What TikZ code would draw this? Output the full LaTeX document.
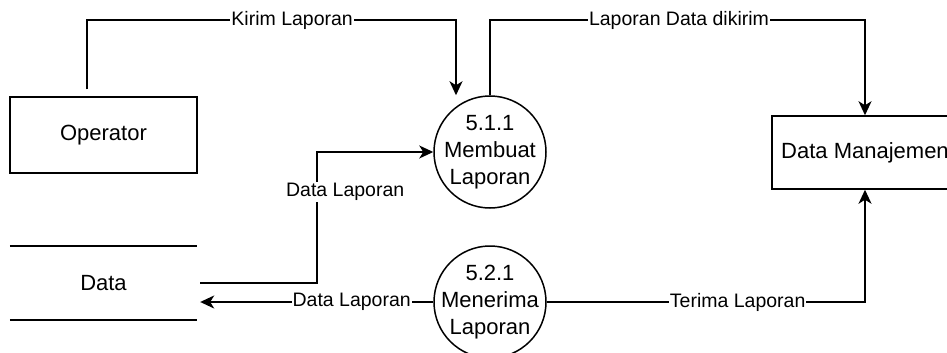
\documentclass[tikz,border=0pt]{standalone}
\usepackage{fontspec}
\setmainfont{Liberation Sans}
\usetikzlibrary{arrows.meta}

\tikzset{
  entity/.style={draw, line width=1.5pt, minimum width=187pt, minimum height=76pt,
    inner sep=0pt, font=\fontsize{22}{27}\selectfont},
  store/.style={minimum width=187pt, minimum height=74pt, inner sep=0pt,
    font=\fontsize{22}{27}\selectfont},
  process/.style={draw, circle, line width=1.5pt, minimum size=112pt, inner sep=0pt},
  proctext/.style={align=center, inner sep=0pt, font=\fontsize{22}{27}\selectfont},
  flow/.style={line width=1.6pt, -{Stealth[length=14pt,width=13pt,inset=4pt]}},
  flowlabel/.style={fill=white, inner sep=1pt, font=\fontsize{19.5}{22}\selectfont}
}

\begin{document}
\begin{tikzpicture}[x=1pt,y=-1pt]
  \useasboundingbox (0,0) rectangle (947,353);
  \clip (0,0) rectangle (947,353);

  % entities, processes and store
  \node[entity] (op) at (103.5,135) {Operator};
  \node[entity, minimum width=186pt, minimum height=73pt] (dm) at (865,152.5) {Data Manajemen};
  \node[process] (p511) at (490,152) {};
  \node[proctext] (t511) at (p511) {5.1.1\\Membuat\\Laporan};
  \node[process] (p521) at (490,302) {};
  \node[proctext] (t521) at (p521) {5.2.1\\Menerima\\Laporan};
  \node[store] (ds) at (103.5,283) {Data};
  \draw[line width=1.5pt] (ds.north west) -- (ds.north east);
  \draw[line width=1.5pt] (ds.south west) -- (ds.south east);

  % flows
  \draw[flow] ([xshift=-16.5pt,yshift=7pt]op.north) -- ++(0,-69)
    -| node[flowlabel, pos=0.278] {Kirim Laporan} ([xshift=-34pt]p511.north);
  \draw[flow] (p511.north) -- ++(0,-75)
    -| node[flowlabel, pos=0.252] {Laporan Data dikirim} (dm.north);
  \draw[flow] ([xshift=3pt]ds.east) -- ++(117,0)
    |- node[flowlabel, pos=0.347, xshift=28pt] {Data Laporan} (p511.west);
  \draw[flow] (p521.west)
    -- node[flowlabel, pos=0.35] {Data Laporan} ([xshift=3pt,yshift=-19pt]ds.east);
  \draw[flow] (p521.east)
    -| node[flowlabel, pos=0.3] {Terima Laporan} (dm.south);
\end{tikzpicture}
\end{document}
